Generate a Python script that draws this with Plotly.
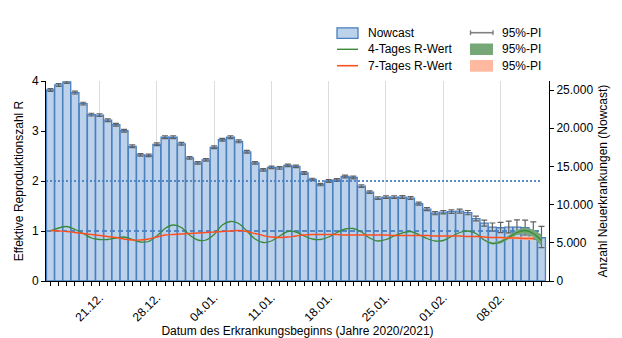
import plotly.graph_objects as go
import pandas as pd

# ---------------- data ----------------
dates = pd.date_range("2020-12-15", "2021-02-13", freq="D")

nowcast = [25000, 25660, 26050, 24670, 23220, 21780, 21710, 21050, 20460, 19670,
           17630, 16510, 16450, 17890, 18820, 18820, 17960, 16120, 15460, 15860,
           17500, 18490, 18820, 18290, 16910, 15460, 14540, 14870, 14800, 15130,
           15000, 14140, 13290, 12630, 13090, 13220, 13680, 13550, 12430, 11640,
           10860, 10990, 10990, 10990, 10860, 10130, 9410, 8880, 9010, 9080,
           9140, 8950, 8160, 7570, 7040, 6970, 7040, 7040, 6970, 6580,
           5660]
nowcast_pi_up = [180, 190, 190, 190, 180, 180, 180, 180, 180, 180,
                 180, 170, 170, 180, 190, 190, 180, 170, 170, 170,
                 180, 190, 190, 190, 180, 170, 170, 170, 170, 170,
                 170, 170, 160, 160, 170, 170, 180, 180, 170, 170,
                 170, 170, 170, 180, 190, 190, 200, 210, 220, 240,
                 260, 280, 320, 400, 550, 700, 800, 950, 1000, 1150,
                 1500]
nowcast_pi_down = [180, 190, 190, 190, 180, 180, 180, 180, 180, 180,
                   180, 170, 170, 180, 190, 190, 180, 170, 170, 170,
                   180, 190, 190, 190, 180, 170, 170, 170, 170, 170,
                   170, 170, 160, 160, 170, 170, 180, 180, 170, 170,
                   170, 170, 170, 180, 190, 190, 200, 210, 220, 240,
                   260, 280, 300, 380, 500, 650, 750, 850, 950, 1100,
                   1300]

r4 = [1.00, 1.06, 1.09, 1.03, 0.95, 0.86, 0.83, 0.83, 0.86, 0.88,
      0.83, 0.78, 0.79, 0.90, 1.05, 1.12, 1.07, 0.92, 0.82, 0.82,
      0.93, 1.12, 1.19, 1.15, 1.00, 0.84, 0.77, 0.80, 0.90, 0.99,
      0.98, 0.90, 0.84, 0.83, 0.88, 0.97, 1.04, 1.05, 0.98, 0.86,
      0.80, 0.83, 0.90, 0.96, 0.99, 0.93, 0.85, 0.80, 0.81, 0.89,
      0.97, 1.00, 0.95, 0.82, 0.75, 0.78, 0.87, 0.97, 1.01, 0.95,
      0.81]
r4_pi_start = 53
r4_pi_lo = [0.81, 0.73, 0.75, 0.83, 0.92, 0.95, 0.87, 0.70]
r4_pi_hi = [0.83, 0.77, 0.81, 0.91, 1.02, 1.07, 1.03, 0.93]

r7 = [1.01, 1.00, 0.99, 0.97, 0.95, 0.93, 0.91, 0.89, 0.87, 0.84,
      0.82, 0.82, 0.84, 0.88, 0.92, 0.93, 0.94, 0.95, 0.96, 0.97,
      0.98, 0.99, 1.00, 1.01, 0.99, 0.95, 0.91, 0.88, 0.87, 0.88,
      0.90, 0.92, 0.93, 0.93, 0.93, 0.93, 0.92, 0.92, 0.92, 0.92,
      0.92, 0.92, 0.91, 0.91, 0.91, 0.91, 0.91, 0.90, 0.90, 0.90,
      0.90, 0.89, 0.89, 0.88, 0.87, 0.87, 0.86, 0.86, 0.85, 0.85]
r7_pi_start = 53
r7_pi_lo = [0.875, 0.86, 0.855, 0.84, 0.835, 0.82, 0.81]
r7_pi_hi = [0.885, 0.88, 0.885, 0.88, 0.885, 0.88, 0.89]

ref_levels = [1, 2]
ref_dash = ["5px,3px", "2px,2px"]

x_ticks_start = "2020-12-21"

# ---------------- styles ----------------
FONT = "Liberation Sans, Arial, sans-serif"
BAR_FILL = "#bcd2ea"
BAR_LINE = "#4a7fc0"
GREEN = "#3a8a3a"
ORANGE = "#ff4f20"
GREEN_BAND = "#76a877"
SALMON_BAND = "#ffb9a0"
REF_COLOR = "rgba(74,127,192,0.9)"

W, H = 622, 338
L, R, T, B = 46, 73, 81, 57
PW, PH = W - L - R, H - T - B

def px(xp):
    return (xp - L) / PW

def py(yp):
    return (H - B - yp) / PH

fig = go.Figure()

fig.add_trace(go.Bar(
    x=dates, y=nowcast, yaxis="y",
    marker=dict(color=BAR_FILL, line=dict(color=BAR_LINE, width=1.3)),
    error_y=dict(type="data", symmetric=False, array=nowcast_pi_up,
                 arrayminus=nowcast_pi_down, color="#606060",
                 thickness=1.2, width=3),
    showlegend=False, name="Nowcast"))

# reference lines on R axis
for lvl, d in zip(ref_levels, ref_dash):
    fig.add_trace(go.Scatter(
        x=[dates[0] - pd.Timedelta(hours=13), dates[-1]], y=[lvl, lvl],
        yaxis="y2", mode="lines",
        line=dict(color=REF_COLOR, width=1.8, dash=d),
        showlegend=False, hoverinfo="skip"))

# bands
d4 = dates[r4_pi_start:r4_pi_start + len(r4_pi_lo)]
fig.add_trace(go.Scatter(x=d4, y=r4_pi_lo, yaxis="y2", mode="lines",
                         line=dict(width=0, color=GREEN_BAND), showlegend=False))
fig.add_trace(go.Scatter(x=d4, y=r4_pi_hi, yaxis="y2", mode="lines",
                         line=dict(width=0, color=GREEN_BAND), fill="tonexty",
                         fillcolor=GREEN_BAND, showlegend=False))
d7 = dates[r7_pi_start:r7_pi_start + len(r7_pi_lo)]
fig.add_trace(go.Scatter(x=d7, y=r7_pi_lo, yaxis="y2", mode="lines",
                         line=dict(width=0, color=SALMON_BAND), showlegend=False))
fig.add_trace(go.Scatter(x=d7, y=r7_pi_hi, yaxis="y2", mode="lines",
                         line=dict(width=0, color=SALMON_BAND), fill="tonexty",
                         fillcolor=SALMON_BAND, showlegend=False))

fig.add_trace(go.Scatter(x=dates, y=r4, yaxis="y2", mode="lines",
                         line=dict(color=GREEN, width=1.3, shape="spline", smoothing=0.8),
                         showlegend=False, name="4-Tages R-Wert"))
fig.add_trace(go.Scatter(x=dates[:len(r7)], y=r7, yaxis="y2", mode="lines",
                         line=dict(color=ORANGE, width=1.4, shape="spline"),
                         showlegend=False, name="7-Tages R-Wert"))

# ---------------- manual legend ----------------
shapes = []
annotations = []
shapes.append(dict(type="rect", xref="paper", yref="paper",
                   x0=px(337), x1=px(358), y0=py(38.3), y1=py(27.8),
                   fillcolor=BAR_FILL, line=dict(color=BAR_LINE, width=1.3)))
shapes.append(dict(type="line", xref="paper", yref="paper",
                   x0=px(337), x1=px(358), y0=py(49.3), y1=py(49.3),
                   line=dict(color=GREEN, width=1.4)))
shapes.append(dict(type="line", xref="paper", yref="paper",
                   x0=px(337), x1=px(358), y0=py(65.7), y1=py(65.7),
                   line=dict(color=ORANGE, width=1.6)))
shapes.append(dict(type="line", xref="paper", yref="paper",
                   x0=px(470.5), x1=px(493), y0=py(32.7), y1=py(32.7),
                   line=dict(color="#808080", width=1.6)))
for xc in (470.5, 493):
    shapes.append(dict(type="line", xref="paper", yref="paper",
                       x0=px(xc), x1=px(xc), y0=py(30.3), y1=py(35.1),
                       line=dict(color="#808080", width=1.4)))
shapes.append(dict(type="rect", xref="paper", yref="paper",
                   x0=px(470), x1=px(493), y0=py(55), y1=py(43.5),
                   fillcolor=GREEN_BAND, line=dict(width=0)))
shapes.append(dict(type="rect", xref="paper", yref="paper",
                   x0=px(470), x1=px(493), y0=py(71.7), y1=py(60),
                   fillcolor=SALMON_BAND, line=dict(width=0)))

legend_texts = [("Nowcast", 366, 32.5), ("4-Tages R-Wert", 366, 49),
                ("7-Tages R-Wert", 366, 65.5), ("95%-PI", 500, 32.5),
                ("95%-PI", 500, 49), ("95%-PI", 500, 65.5)]
for txt, xx, yy in legend_texts:
    annotations.append(dict(text=txt, xref="paper", yref="paper",
                            x=px(xx), y=py(yy), xanchor="left", yanchor="middle",
                            showarrow=False, font=dict(size=12, color="black", family=FONT)))

fig.update_layout(
    width=W, height=H,
    margin=dict(l=L, r=R, t=T, b=B, pad=0),
    paper_bgcolor="white", plot_bgcolor="white",
    font=dict(family=FONT, size=12, color="black"),
    separators=",.",
    bargap=0.04,
    showlegend=False,
    shapes=shapes,
    annotations=annotations,
    xaxis=dict(
        type="date", automargin=False,
        range=[dates[0] - pd.Timedelta(hours=13), dates[-1] + pd.Timedelta(hours=22)],
        tick0=x_ticks_start, dtick=7 * 86400000,
        tickformat="%d.%m.", tickangle=-45,
        ticks="outside", ticklen=4, tickcolor="black", tickwidth=1,
        showgrid=True, gridcolor="#dcdcdc", gridwidth=1,
        showline=True, linecolor="black", linewidth=1,
        zeroline=False,
        tickfont=dict(size=12),
        minor=dict(dtick=86400000, tick0="2020-12-15", ticks="outside",
                   ticklen=4, tickcolor="black", showgrid=False),
        title=dict(text="Datum des Erkrankungsbeginns (Jahre 2020/2021)",
                   font=dict(size=12), standoff=4),
    ),
    yaxis=dict(
        side="right", range=[0, 26180], dtick=5000, tickformat=",d",
        automargin=False,
        ticks="outside", ticklen=4, tickcolor="black",
        showline=True, linecolor="black", linewidth=1,
        showgrid=False, zeroline=False,
        tickfont=dict(size=12),
        title=dict(text="Anzahl Neuerkrankungen (Nowcast)", font=dict(size=12), standoff=6),
    ),
    yaxis2=dict(
        side="left", overlaying="y", range=[0, 4], dtick=1,
        automargin=False,
        ticks="outside", ticklen=4, tickcolor="black",
        showline=True, linecolor="black", linewidth=1,
        showgrid=False, zeroline=False,
        tickfont=dict(size=12),
        title=dict(text="Effektive Reproduktionszahl R", font=dict(size=12), standoff=5),
    ),
)

fig.write_html("out.html")
